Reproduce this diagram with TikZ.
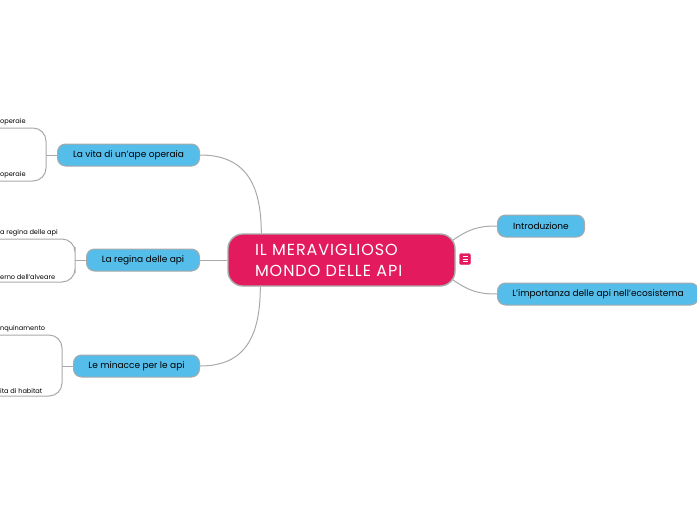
\documentclass[tikz,border=0pt]{standalone}
\usepackage{fontspec}
\setmainfont{Poppins}
\newfontfamily\hubfont{Poppins}[LetterSpace=6]
\usetikzlibrary{positioning}
\definecolor{mapred}{HTML}{E31B5E}
\definecolor{mapblue}{HTML}{55BDEA}
\definecolor{mapgray}{HTML}{A9A9A9}
\tikzset{
  link/.style={draw=mapgray,line width=1pt},
  central/.style={draw=mapgray,line width=1.4pt,fill=mapred,rounded corners=15pt,
    text=white,font=\hubfont\fontsize{16}{21}\selectfont,align=left,
    minimum width=227pt,minimum height=52pt,text width=173pt,inner xsep=27pt},
  topic/.style={draw=mapgray,line width=1pt,fill=mapblue,rounded corners=8pt,
    font=\fontsize{9}{11}\selectfont,minimum height=22pt,inner xsep=0pt},
  leaf/.style={font=\fontsize{6.6}{8}\selectfont,inner xsep=0pt,inner ysep=2.5pt}
}

\begin{document}
\begin{tikzpicture}[x=1pt,y=-1pt]
\useasboundingbox (0,0) rectangle (697,520);
\node[central] (hub) at (341.5,260) {IL MERAVIGLIOSO\\MONDO DELLE API};
\node[draw=mapred,fill=mapred,rounded corners=1.5pt,minimum size=11pt,inner sep=0pt] (note) at (465,259) {};
\foreach \dy in {-2.5,0,2.5}
  \draw[white,line width=0.8pt] ([shift={(-2.5,\dy)}]note.center) -- ++(5,0);
% right side
\node[topic,anchor=west,minimum width=87pt] (intro) at (497,226) {Introduzione};
\node[topic,anchor=west,minimum width=201pt] (eco) at (497,294) {L’importanza delle api nell’ecosistema};
\draw[link] ([shift={(-4,-19)}]hub.east) .. controls (470,228) and (480,226) .. (intro.west);
\draw[link] ([shift={(-4,19)}]hub.east) .. controls (470,292) and (480,294) .. (eco.west);
% left side
\node[topic,anchor=east,minimum width=142pt] (vita) at (200,155) {La vita di un’ape operaia};
\node[topic,anchor=east,minimum width=113pt] (regina) at (200,260) {La regina delle api};
\node[topic,anchor=east,minimum width=126pt] (minacce) at (200,366) {Le minacce per le api};
\draw[link] ([xshift=34pt]hub.north west) .. controls +(0,-50) and +(45,0) .. (vita.east);
\draw[link] (hub.west) -- (regina.east);
\draw[link] ([xshift=33pt]hub.south west) .. controls +(0,50) and +(45,0) .. (minacce.east);
% sub-topics, cut at the left edge
\node[leaf,anchor=south west] (vita1) at (0,128) {operaie};
\node[leaf,anchor=south west] (vita2) at (0,181) {operaie};
\draw[link,rounded corners=13pt] (vita1.south west) -| ([xshift=-11pt]vita.west) |- (vita2.south west);
\draw[link] (vita.west) -- ++(-11,0);
\node[leaf,anchor=south west] (regina1) at (0,239) {a regina delle api};
\node[leaf,anchor=south west] (regina2) at (0,282) {erno dell’alveare};
\draw[link,rounded corners=13pt] (regina1.south west) -| ([xshift=-11pt]regina.west) |- (regina2.south west);
\draw[link] (regina.west) -- ++(-11,0);
\node[leaf,anchor=south west] (minacce1) at (0,335) {nquinamento};
\node[leaf,anchor=south west] (minacce2) at (0,396) {ita di habitat};
\draw[link,rounded corners=13pt] (minacce1.south west) -| ([xshift=-11pt]minacce.west) |- (minacce2.south west);
\draw[link] (minacce.west) -- ++(-11,0);
\end{tikzpicture}
\end{document}
